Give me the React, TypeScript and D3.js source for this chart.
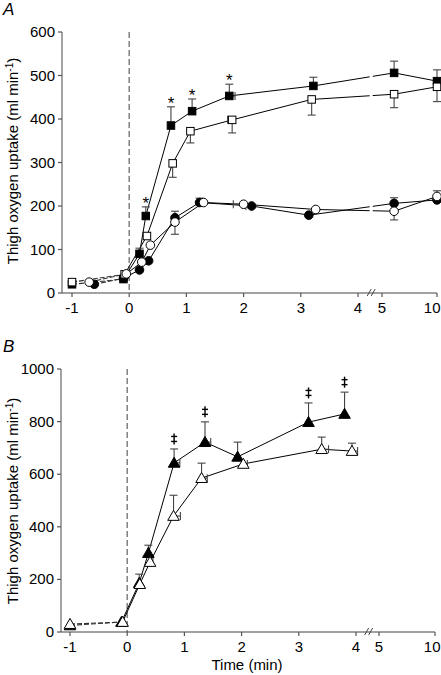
import React from "react";
import * as d3 from "d3";

// ---------- Panel A data ----------
const aFilledSqT = [-1, -0.1, 0.18, 0.29, 0.73, 1.1, 1.75, 3.22, 6.1, 10];
const aFilledSqV = [20, 32, 90, 177, 385, 418, 453, 476, 506, 487];
const aFilledSqUp = [0, 0, 13, 21, 43, 28, 27, 20, 27, 26];
const aFilledSqDn = [0, 0, 0, 0, 0, 0, 0, 0, 0, 0];
const aFilledSqXe = [0, 0, 0, 0, 0, 0, 0.1, 0, 0, 0];

const aOpenSqT = [-1, -0.08, 0.31, 0.76, 1.07, 1.8, 3.19, 6.1, 10];
const aOpenSqV = [25, 43, 131, 298, 372, 398, 445, 457, 474];
const aOpenSqUp = [0, 0, 0, 0, 0, 0, 0, 0, 0];
const aOpenSqDn = [0, 0, 0, 32, 27, 30, 36, 31, 34];
const aOpenSqXe = [0, 0, 0, 0, 0, -0.08, 0, 0, 0];

const aFilledCiT = [-0.61, -0.1, 0.18, 0.34, 0.8, 1.23, 2.14, 3.14, 6.1, 10];
const aFilledCiV = [20, 34, 53, 74, 173, 208, 200, 179, 206, 214];
const aFilledCiUp = [0, 0, 0, 0, 15, 10, 0, 0, 13, 0];
const aFilledCiDn = [0, 0, 0, 0, 0, 0, 0, 0, 0, 0];
const aFilledCiXe = [0, 0, 0, 0, 0, 0, -0.1, 0, 0, 0];

const aOpenCiT = [-0.7, -0.05, 0.22, 0.37, 0.8, 1.3, 2.0, 3.26, 6.1, 10];
const aOpenCiV = [25, 44, 71, 110, 163, 208, 204, 192, 188, 222];
const aOpenCiUp = [0, 0, 0, 0, 0, 0, 0, 0, 0, 13];
const aOpenCiDn = [0, 0, 0, 0, 28, 0, 0, 0, 20, 0];
const aOpenCiXe = [0, 0, 0, 0, 0, 0, -0.18, 0, 0, 0];

const aStarT = [0.29, 0.73, 1.1, 1.75];

// ---------- Panel B data ----------
const bFilledTrT = [-1, -0.1, 0.21, 0.37, 0.82, 1.36, 1.93, 3.17, 3.8];
const bFilledTrV = [25, 38, 186, 300, 643, 722, 666, 798, 829];
const bFilledTrUp = [0, 0, 34, 30, 53, 77, 56, 73, 83];
const bFilledTrDn = [0, 0, 0, 0, 0, 0, 0, 0, 0];
const bFilledTrXe = [0, 0, 0, 0, 0.1, 0.1, 0, 0, 0];

const bOpenTrT = [-1, -0.08, 0.22, 0.4, 0.81, 1.3, 2.03, 3.4, 3.93];
const bOpenTrV = [30, 38, 182, 266, 441, 585, 639, 695, 688];
const bOpenTrUp = [0, 0, 0, 0, 79, 57, 0, 46, 30];
const bOpenTrDn = [0, 0, 0, 0, 0, 0, 0, 0, 0];
const bOpenTrXe = [0, 0, 0, 0.05, 0.12, 0.1, 0.07, 0.12, 0.14];

const bDaggerT = [0.82, 1.36, 3.17, 3.8];

const xTickVals = [-1, 0, 1, 2, 3, 4, 5, 10];
const aYTicks = [0, 100, 200, 300, 400, 500, 600];
const bYTicks = [0, 200, 400, 600, 800, 1000];

const FONT = "'Liberation Sans', Arial, Helvetica, sans-serif";

type Series = {
  t: number[]; v: number[]; up: number[]; dn: number[]; xe: number[];
  shape: "square" | "circle" | "triangle"; filled: boolean;
};

function Marker({ shape, filled, x, y }: { shape: string; filled: boolean; x: number; y: number }) {
  const fill = filled ? "#000" : "#fff";
  if (shape === "square") {
    const s = 7.5;
    return <rect x={x - s / 2} y={y - s / 2} width={s} height={s} fill={fill} stroke="#000" strokeWidth={1} />;
  }
  if (shape === "circle") {
    return <circle cx={x} cy={y} r={4.3} fill={fill} stroke="#000" strokeWidth={1} />;
  }
  const path = d3.symbol().type(d3.symbolTriangle).size(58)();
  return <path d={path || ""} transform={`translate(${x},${y + 1})`} fill={fill} stroke="#000" strokeWidth={1} />;
}

function Panel(props: {
  id: string; series: Series[]; yTicks: number[]; yMax: number;
  xRange: number[]; yRange: number[]; axisX: number; label: string; labelY: number;
  ylabelY: number; marks: number[]; markSeries: number; markKind: "star" | "dagger";
  showTimeLabel: boolean;
}) {
  const { series, yTicks, yMax, xRange, yRange, axisX } = props;
  const x = d3.scaleLinear().domain([-1, 4, 5, 10]).range(xRange);
  const y = d3.scaleLinear().domain([0, yMax]).range(yRange);
  const y0 = yRange[0];
  const yTop = yRange[1];
  const gapX = x(4.55);
  const line = d3.line<[number, number]>().x((d) => x(d[0])).y((d) => y(d[1]));
  const clipId = "clip" + props.id;
  const ms = series[props.markSeries];
  return (
    <g>
      <defs>
        <clipPath id={clipId}>
          <rect x={0} y={0} width={gapX - 1.5} height={675} />
          <rect x={gapX + 1.5} y={0} width={441} height={675} />
        </clipPath>
      </defs>
      <text x={3} y={props.labelY} fontFamily={FONT} fontStyle="italic" fontSize={17}>{props.label}</text>
      {/* dashed zero line */}
      <line x1={x(0)} x2={x(0)} y1={yTop} y2={y0} stroke="#777" strokeWidth={1.4} strokeDasharray="6,3" />
      {/* axes */}
      <line x1={axisX} x2={axisX} y1={yTop} y2={y0} stroke="#666" strokeWidth={1.2} />
      <line x1={axisX} x2={x(10)} y1={y0} y2={y0} stroke="#444" strokeWidth={1.2} />
      {yTicks.map((t) => (
        <g key={"yt" + t}>
          <line x1={axisX - 4} x2={axisX} y1={y(t)} y2={y(t)} stroke="#555" strokeWidth={1.2} />
          <text x={axisX - 7} y={y(t) + 5} textAnchor="end" fontFamily={FONT} fontSize={15}>{t}</text>
        </g>
      ))}
      {xTickVals.map((t) => (
        <g key={"xt" + t}>
          <line x1={x(t)} x2={x(t)} y1={y0} y2={y0 + 4} stroke="#555" strokeWidth={1.2} />
          {t === 10 ? (
            <text x={440.5} y={y0 + 20} textAnchor="end" fontFamily={FONT} fontSize={15}>{t}</text>
          ) : (
            <text x={x(t)} y={y0 + 20} textAnchor="middle" fontFamily={FONT} fontSize={15}>{t}</text>
          )}
        </g>
      ))}
      {/* axis break marks */}
      <line x1={gapX - 4} x2={gapX} y1={y0 + 3} y2={y0 - 4} stroke="#444" strokeWidth={1} />
      <line x1={gapX} x2={gapX + 4} y1={y0 + 3} y2={y0 - 4} stroke="#444" strokeWidth={1} />
      <text transform={`translate(18,${props.ylabelY}) rotate(-90)`} textAnchor="middle" fontFamily={FONT} fontSize={15}>
        Thigh oxygen uptake (ml min<tspan dy={-5} fontSize={10}>-1</tspan><tspan dy={5}>)</tspan>
      </text>
      {props.showTimeLabel && (
        <text x={247} y={670} textAnchor="middle" fontFamily={FONT} fontSize={15}>Time (min)</text>
      )}
      {/* lines */}
      <g clipPath={`url(#${clipId})`}>
        {series.map((s, i) => {
          const pts: [number, number][] = s.t.map((t, j) => [t, s.v[j]]);
          return (
            <g key={"l" + i}>
              <path d={line(pts.slice(0, 2)) || ""} fill="none" stroke="#333" strokeWidth={1.1} strokeDasharray="5,2" />
              <path d={line(pts.slice(1)) || ""} fill="none" stroke="#000" strokeWidth={1} />
            </g>
          );
        })}
      </g>
      {/* error bars */}
      {series.map((s, i) => (
        <g key={"e" + i} stroke="#444" strokeWidth={1.1}>
          {s.t.map((t, j) => {
            const cx = x(t), cy = y(s.v[j]);
            const items: React.ReactNode[] = [];
            if (s.up[j] > 0) {
              const yy = y(s.v[j] + s.up[j]);
              items.push(<line key="u" x1={cx} x2={cx} y1={cy} y2={yy} />);
              items.push(<line key="uc" x1={cx - 4} x2={cx + 4} y1={yy} y2={yy} />);
            }
            if (s.dn[j] > 0) {
              const yy = y(s.v[j] - s.dn[j]);
              items.push(<line key="d" x1={cx} x2={cx} y1={cy} y2={yy} />);
              items.push(<line key="dc" x1={cx - 4} x2={cx + 4} y1={yy} y2={yy} />);
            }
            if (s.xe[j] !== 0) {
              const xx = x(t + s.xe[j]);
              items.push(<line key="h" x1={cx} x2={xx} y1={cy} y2={cy} />);
              items.push(<line key="hc" x1={xx} x2={xx} y1={cy - 4} y2={cy + 4} />);
            }
            return <g key={j}>{items}</g>;
          })}
        </g>
      ))}
      {/* markers */}
      {series.map((s, i) => (
        <g key={"m" + i}>
          {s.t.map((t, j) => (
            <Marker key={j} shape={s.shape} filled={s.filled} x={x(t)} y={y(s.v[j])} />
          ))}
        </g>
      ))}
      {/* significance marks */}
      {props.marks.map((t) => {
        const j = ms.t.indexOf(t);
        const capY = y(ms.v[j] + ms.up[j]);
        const cx = x(t);
        if (props.markKind === "star") {
          return (
            <text key={"s" + t} x={cx} y={capY + 2} textAnchor="middle" fontFamily={FONT} fontSize={17} fill="#000">*</text>
          );
        }
        const cy = capY - 10;
        return (
          <g key={"s" + t} stroke="#000" strokeWidth={1.4}>
            <line x1={cx} x2={cx} y1={cy - 5.5} y2={cy + 5.5} />
            <line x1={cx - 3} x2={cx + 3} y1={cy - 2.5} y2={cy - 2.5} />
            <line x1={cx - 3} x2={cx + 3} y1={cy + 2.5} y2={cy + 2.5} />
          </g>
        );
      })}
    </g>
  );
}

export default function App() {
  const seriesA: Series[] = [
    { t: aFilledCiT, v: aFilledCiV, up: aFilledCiUp, dn: aFilledCiDn, xe: aFilledCiXe, shape: "circle", filled: true },
    { t: aFilledSqT, v: aFilledSqV, up: aFilledSqUp, dn: aFilledSqDn, xe: aFilledSqXe, shape: "square", filled: true },
    { t: aOpenSqT, v: aOpenSqV, up: aOpenSqUp, dn: aOpenSqDn, xe: aOpenSqXe, shape: "square", filled: false },
    { t: aOpenCiT, v: aOpenCiV, up: aOpenCiUp, dn: aOpenCiDn, xe: aOpenCiXe, shape: "circle", filled: false },
  ];
  const seriesB: Series[] = [
    { t: bFilledTrT, v: bFilledTrV, up: bFilledTrUp, dn: bFilledTrDn, xe: bFilledTrXe, shape: "triangle", filled: true },
    { t: bOpenTrT, v: bOpenTrV, up: bOpenTrUp, dn: bOpenTrDn, xe: bOpenTrXe, shape: "triangle", filled: false },
  ];
  return (
    <svg width={441} height={675} style={{ position: "absolute", left: 0, top: 0, background: "#fff" }}>
      <rect width={441} height={675} fill="#fff" />
      <Panel id="A" series={seriesA} yTicks={aYTicks} yMax={600} xRange={[72, 358, 382, 437]} yRange={[293, 32]}
        axisX={62} label="A" labelY={15} ylabelY={161} marks={aStarT} markSeries={1} markKind="star"
        showTimeLabel={false} />
      <Panel id="B" series={seriesB} yTicks={bYTicks} yMax={1000} xRange={[70, 356, 379, 435]} yRange={[632, 369]}
        axisX={61} label="B" labelY={352} ylabelY={501} marks={bDaggerT} markSeries={0} markKind="dagger"
        showTimeLabel={true} />
    </svg>
  );
}
